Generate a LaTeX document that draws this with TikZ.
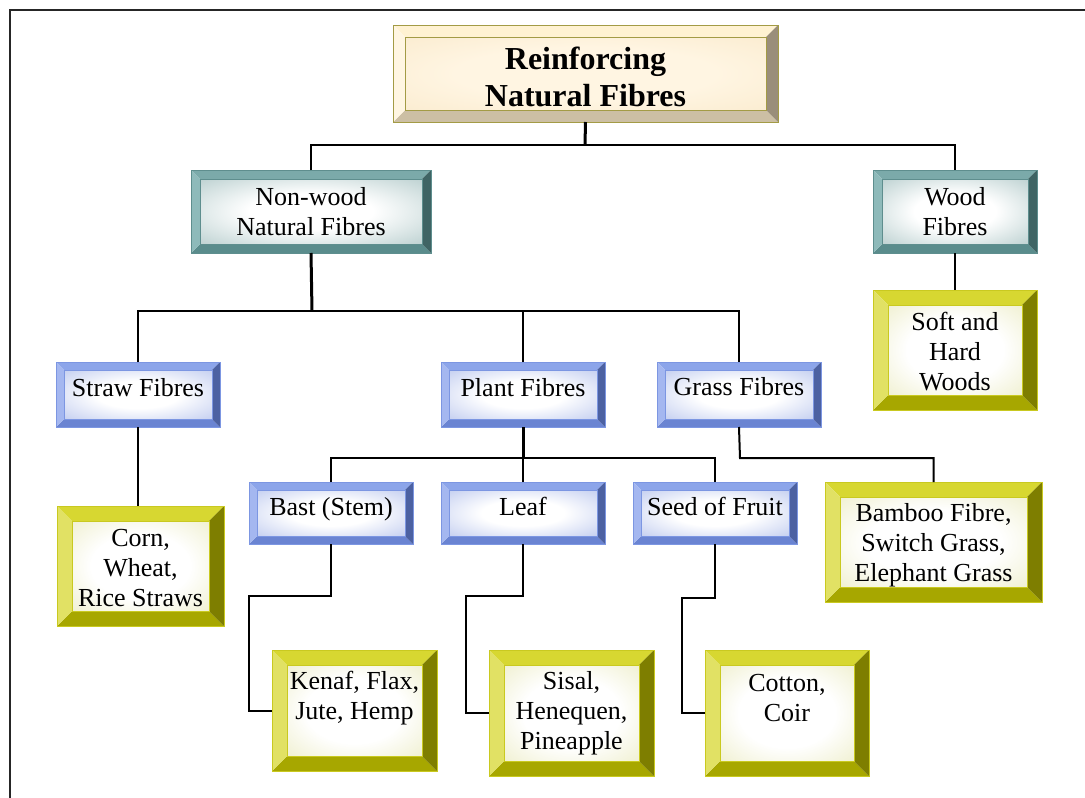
\documentclass[tikz,border=0pt]{standalone}
\usepackage{fontspec}
\setmainfont{Liberation Serif}
\definecolor{titletop}{HTML}{FFF2D2}
\definecolor{titleleft}{HTML}{FFF6E2}
\definecolor{titleright}{HTML}{9A8E7A}
\definecolor{titlebot}{HTML}{CCBFA4}
\definecolor{titleline}{HTML}{A39B45}
\definecolor{titleface}{HTML}{F3DDB2}
\definecolor{titlein}{HTML}{FFF5E2}
\definecolor{tealtop}{HTML}{7BAAAA}
\definecolor{tealleft}{HTML}{8EBABA}
\definecolor{tealright}{HTML}{3F6464}
\definecolor{tealbot}{HTML}{5A8C8C}
\definecolor{tealline}{HTML}{5E8E8E}
\definecolor{tealface}{HTML}{6A9898}
\definecolor{bluetop}{HTML}{8CA5EA}
\definecolor{blueleft}{HTML}{A4B7F0}
\definecolor{blueright}{HTML}{4C61A2}
\definecolor{bluebot}{HTML}{6A84D2}
\definecolor{blueline}{HTML}{7C96E2}
\definecolor{blueface}{HTML}{7B93DE}
\definecolor{yeltop}{HTML}{D7D731}
\definecolor{yelleft}{HTML}{E1E164}
\definecolor{yelright}{HTML}{7E7E00}
\definecolor{yelbot}{HTML}{A7A700}
\definecolor{yelline}{HTML}{C9C920}
\definecolor{yelface}{HTML}{CDCD66}
\colorlet{tealmid}{tealface!65!white}
\colorlet{bluemid}{blueface!65!white}
\colorlet{yelmid}{yelface!50!white}
\colorlet{titlemid}{titleface!60!titlein}
\pgfdeclareradialshading{facetitle}{\pgfpoint{0bp}{0bp}}{color(0bp)=(titlein); color(18bp)=(titlein); color(48bp)=(titlemid); color(70bp)=(titleface)}
\pgfdeclareradialshading{faceteal}{\pgfpoint{0bp}{0bp}}{color(0bp)=(white); color(14bp)=(white); color(46bp)=(tealmid); color(70bp)=(tealface)}
\pgfdeclareradialshading{faceblue}{\pgfpoint{0bp}{0bp}}{color(0bp)=(white); color(14bp)=(white); color(46bp)=(bluemid); color(70bp)=(blueface)}
\pgfdeclareradialshading{faceyel}{\pgfpoint{0bp}{0bp}}{color(0bp)=(white); color(18bp)=(white); color(48bp)=(yelmid); color(70bp)=(yelface)}
\tikzset{
  boxnode/.style={inner sep=0pt, outer sep=0pt},
  txt/.style={align=center, inner sep=0pt, font=\fontsize{26}{30}\selectfont},
  ttxt/.style={align=center, inner sep=0pt, font=\fontsize{32}{37}\selectfont\bfseries},
  conn/.style={line width=2pt, black},
  stem/.style={line width=3pt, black},
}
% #1 name, #2 x1, #3 y1, #4 x2, #5 y2, #6 bevel, #7 palette, #8 text shift, #9 text style
\newcommand\bevbox[9]{%
  \fill[#7top] (#2,#3) -- (#4,#3) -- ({#4-#6},{#3+#6}) -- ({#2+#6},{#3+#6}) -- cycle;
  \fill[#7bot] (#2,#5) -- (#4,#5) -- ({#4-#6},{#5-#6}) -- ({#2+#6},{#5-#6}) -- cycle;
  \fill[#7left] (#2,#3) -- ({#2+#6},{#3+#6}) -- ({#2+#6},{#5-#6}) -- (#2,#5) -- cycle;
  \fill[#7right] (#4,#3) -- ({#4-#6},{#3+#6}) -- ({#4-#6},{#5-#6}) -- (#4,#5) -- cycle;
  \shade[shading=face#7] ({#2+#6},{#3+#6}) rectangle ({#4-#6},{#5-#6});
  \draw[#7line, line width=0.6pt] ({#2+#6},{#3+#6}) rectangle ({#4-#6},{#5-#6});
  \draw[#7line, line width=1pt] (#2,#3) rectangle (#4,#5);
  \node[boxnode, minimum width={#4-#2}, minimum height={#5-#3}] (#1) at ({(#2+#4)/2},{(#3+#5)/2}) {};
  \node[#9, yshift=#8pt] (#1-t) at (#1.center)
}
\begin{document}
\begin{tikzpicture}[x=1pt,y=-1pt]
\useasboundingbox (0,0) rectangle (1085,798);
\fill[white] (0,0) rectangle (1085,798);
\draw[line width=2pt, black!85] (9.5,798) -- (9.5,9.5) -- (1085,9.5);

\bevbox{title}{393}{25}{778}{122}{12}{title}{-3}{ttxt} {Reinforcing\\Natural Fibres};
\bevbox{nonwood}{191}{170}{431}{253}{9}{teal}{0}{txt} {Non-wood\\Natural Fibres};
\bevbox{wood}{873}{170}{1037}{253}{9}{teal}{0}{txt} {Wood\\Fibres};
\bevbox{soft}{873}{290}{1037}{410}{15}{yel}{-2}{txt} {Soft and\\Hard\\Woods};
\bevbox{straw}{56}{362}{220}{427}{8}{blue}{7}{txt} {Straw Fibres};
\bevbox{plant}{441}{362}{605}{427}{8}{blue}{7}{txt} {Plant Fibres};
\bevbox{grass}{657}{362}{821}{427}{8}{blue}{8}{txt} {Grass Fibres};
\bevbox{corn}{57}{506}{224}{626}{15}{yel}{-2}{txt} {Corn,\\Wheat,\\Rice Straws};
\bevbox{bast}{249}{482}{413}{544}{8}{blue}{4}{txt} {Bast (Stem)};
\bevbox{leaf}{441}{482}{605}{544}{8}{blue}{7}{txt} {Leaf};
\bevbox{seed}{633}{482}{797}{544}{8}{blue}{7}{txt} {Seed of Fruit};
\bevbox{bamboo}{825}{482}{1042}{602}{15}{yel}{-3}{txt} {Bamboo Fibre,\\Switch Grass,\\Elephant Grass};
\bevbox{kenaf}{272}{650}{437}{771}{15}{yel}{12}{txt} {Kenaf, Flax,\\Jute, Hemp};
\bevbox{sisal}{489}{650}{654}{776}{15}{yel}{0}{txt} {Sisal,\\Henequen,\\Pineapple};
\bevbox{cotton}{705}{650}{869}{776}{15}{yel}{15}{txt} {Cotton,\\Coir};

\coordinate (j1) at (585,145);
\coordinate (j2) at (312,311);
\coordinate (j3) at (523,458);
\coordinate (j4) at (740,458);
\coordinate (k1) at (249,596);
\coordinate (l1) at (466,596);
\coordinate (s1) at (682,598);

\draw[stem] (title.south) -- (j1);
\draw[conn] (nonwood.north) |- (j1) -| (wood.north);
\draw[stem] (nonwood.south) -- (j2);
\draw[conn] (straw.north) |- (j2) -| (grass.north);
\draw[conn] (plant.north) -- (plant.north |- j2);
\draw[conn] (wood.south) -- (soft.north);
\draw[conn] (straw.south) -- (straw.south |- corn.north);
\draw[stem] (plant.south) -- (j3);
\draw[conn] (bast.north) |- (j3) -| (seed.north);
\draw[conn] (leaf.north) -- (j3);
\draw[conn] (grass.south) -- (j4) -| (bamboo.north);
\draw[conn] (bast.south) |- (k1) |- (kenaf.west);
\draw[conn] (leaf.south) |- (l1) |- (sisal.west);
\draw[conn] (seed.south) |- (s1) |- (cotton.west);
\end{tikzpicture}
\end{document}
